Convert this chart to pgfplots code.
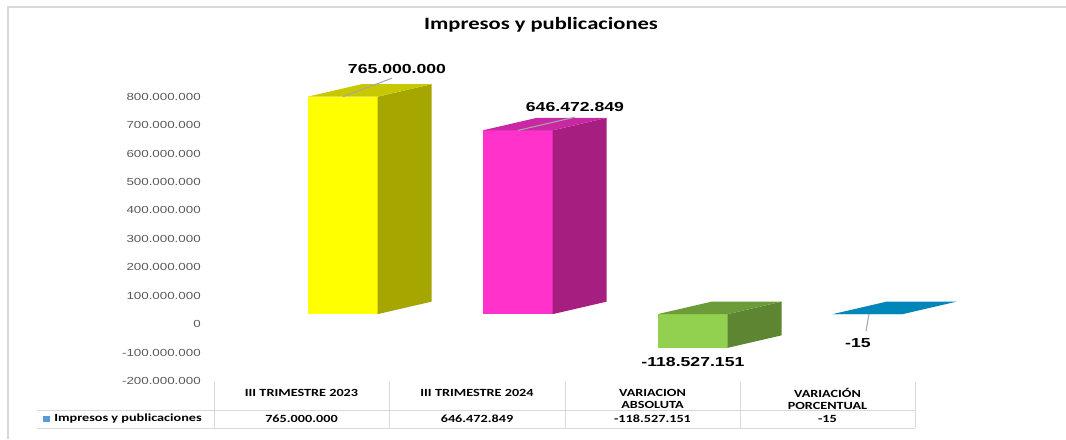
\documentclass[border=0pt]{standalone}
\usepackage{pgfplots}
\pgfplotsset{compat=1.18}
\usepackage{fontspec}
\setmainfont{Liberation Sans}
\newfontfamily\tickfont[FakeStretch=1.3]{Liberation Sans}
\newfontfamily\lblfont[FakeStretch=1.35]{Liberation Sans}
\newfontfamily\calfont[FakeStretch=1.3]{Carlito}

\definecolor{yelF}{HTML}{FFFF00}
\definecolor{yelS}{HTML}{A6A600}
\definecolor{yelT}{HTML}{C8C800}
\definecolor{magF}{HTML}{FF33CC}
\definecolor{magS}{HTML}{A51E80}
\definecolor{magT}{HTML}{C828A4}
\definecolor{grnF}{HTML}{92D050}
\definecolor{grnS}{HTML}{5E8532}
\definecolor{grnT}{HTML}{6C9B3A}
\definecolor{bluT}{HTML}{0086B8}
\definecolor{tickgray}{HTML}{595959}
\definecolor{rule}{HTML}{D9D9D9}
\definecolor{leader}{HTML}{A6A6A6}
\definecolor{keyblue}{HTML}{5B9BD5}

\begin{document}
\begin{tikzpicture}
\useasboundingbox (0,0) rectangle (799.5pt,-329.25pt);

% frame, title and data table (pixel grid, y down)
\begin{scope}[x=0.75pt,y=-0.75pt]
  \draw[rule, line width=1.2pt] (8,439) -- (8,7) -- (1066,7);
  \node[font=\calfont\bfseries\fontsize{13}{15}\selectfont] at (541,25) {Impresos y publicaciones};

  \foreach \xx in {214,389,565,740,915} \draw[rule, line width=0.75pt] (\xx,382) -- (\xx,428);
  \draw[rule, line width=0.75pt] (37,410) -- (915,410);
  \draw[rule, line width=0.75pt] (37,428) -- (915,428);

  \begin{scope}[every node/.style={font=\calfont\bfseries\fontsize{8.2}{9}\selectfont, align=center}]
    \node at (301.5,393) {III TRIMESTRE 2023};
    \node at (477,393) {III TRIMESTRE 2024};
    \node at (652.5,399) {VARIACION\\ABSOLUTA};
    \node at (827.5,399) {VARIACIÓN\\PORCENTUAL};
    \node at (301.5,419) {765.000.000};
    \node at (477,419) {646.472.849};
    \node at (652.5,419) {-118.527.151};
    \node at (827.5,419) {-15};
    \node[anchor=west, inner sep=0pt] at (54,419) {Impresos y publicaciones};
  \end{scope}
  \fill[keyblue] (43,416) rectangle (50,422);
\end{scope}

% value axis (back wall ticks)
\begin{axis}[
    at={(161.25pt,-285.75pt)}, anchor=south west,
    scale only axis, width=525pt, height=213.2pt,
    xmin=-0.5, xmax=3.5,
    ymin=-200000000, ymax=800000000,
    xtick=\empty,
    ytick={-200000000,-100000000,0,100000000,200000000,300000000,400000000,500000000,600000000,700000000,800000000},
    scaled y ticks=false,
    axis line style={draw=none},
    major tick length=0pt,
    yticklabel style={
        font=\tickfont\fontsize{7.7}{9}\selectfont, text=tickgray,
        anchor=east, inner sep=0pt, xshift=-10.5pt,
        /pgf/number format/.cd, fixed, precision=0, 1000 sep={.},
        assume math mode=true,
    },
]
\end{axis}

% bars (front plane sits a little above the back wall)
\begin{axis}[
    at={(161.25pt,-278.25pt)}, anchor=south west,
    scale only axis, width=525pt, height=213.2pt,
    xmin=-0.5, xmax=3.5,
    ymin=-200000000, ymax=800000000,
    hide axis, clip=false,
]
  % III TRIMESTRE 2023
  \addplot[ybar, bar width=52.5pt, bar shift=30pt, fill=yelF, draw=none] coordinates {(0,765000000)};
  \addplot[fill=yelS, draw=none] coordinates {(0.429,0) (0.429,765000000) (0.738,809000000) (0.738,44000000)};
  \addplot[fill=yelT, draw=none] coordinates {(0.029,765000000) (0.338,809000000) (0.738,809000000) (0.429,765000000)};

  % III TRIMESTRE 2024
  \addplot[ybar, bar width=52.5pt, bar shift=30pt, fill=magF, draw=none] coordinates {(1,646472849)};
  \addplot[fill=magS, draw=none] coordinates {(1.429,0) (1.429,646472849) (1.738,690472849) (1.738,44000000)};
  \addplot[fill=magT, draw=none] coordinates {(1.029,646472849) (1.338,690472849) (1.738,690472849) (1.429,646472849)};

  % VARIACION ABSOLUTA
  \addplot[ybar, bar width=52.5pt, bar shift=30pt, fill=grnF, draw=none] coordinates {(2,-118527151)};
  \addplot[fill=grnS, draw=none] coordinates {(2.429,0) (2.738,44000000) (2.738,-74527151) (2.429,-118527151)};
  \addplot[fill=grnT, draw=none] coordinates {(2.029,0) (2.338,44000000) (2.738,44000000) (2.429,0)};

  % VARIACION PORCENTUAL
  \addplot[ybar, bar width=52.5pt, bar shift=30pt, fill=bluT, draw=none] coordinates {(3,-15)};
  \addplot[fill=bluT, draw=none] coordinates {(3.029,0) (3.338,44000000) (3.738,44000000) (3.429,0)};

  % data labels
  \draw[leader, line width=0.8pt] (axis cs:0.231,765000000) -- (axis cs:0.511,830000000);
  \draw[leader, line width=0.8pt] (axis cs:1.231,646472849) -- (axis cs:1.557,693000000);
  \draw[leader, line width=0.8pt] (axis cs:3.237,0) -- (axis cs:3.22,-60000000);
  \begin{scope}[every node/.style={font=\lblfont\bfseries\fontsize{9.8}{11}\selectfont}]
    \node at (axis cs:0.54,862000000) {765.000.000};
    \node at (axis cs:1.557,728000000) {646.472.849};
    \node at (axis cs:2.231,-168000000) {-118.527.151};
    \node at (axis cs:3.174,-102000000) {-15};
  \end{scope}
\end{axis}
\end{tikzpicture}
\end{document}
